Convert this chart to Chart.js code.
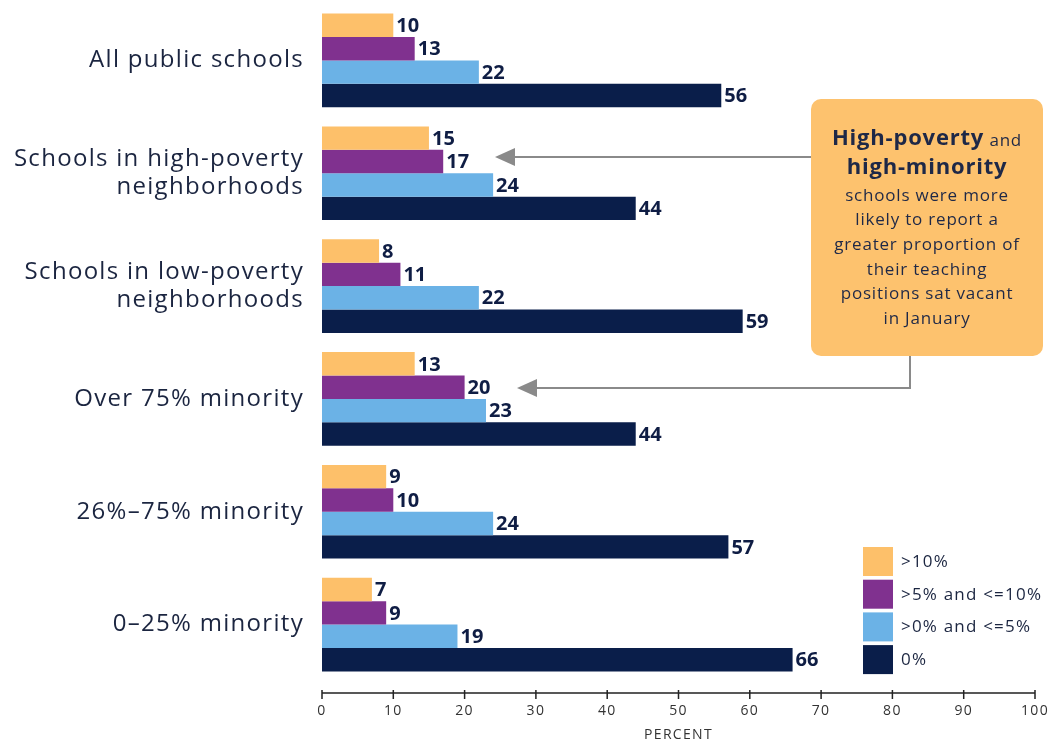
<!DOCTYPE html>
<html>
<head>
<meta charset="utf-8">
<script src="https://cdn.jsdelivr.net/npm/chart.js@4/dist/chart.umd.min.js"></script>
<style>
  body { margin: 0; background: #fff; }
  #wrap { width: 1057px; height: 743px; position: relative; }
</style>
</head>
<body>
<div id="wrap"><canvas id="vacancyChart"></canvas></div>
<script>
const categories = [
  "All public schools",
  ["Schools in high-poverty", "neighborhoods"],
  ["Schools in low-poverty", "neighborhoods"],
  "Over 75% minority",
  "26%\u201375% minority",
  "0\u201325% minority",
];
const seriesNames = [">10%", ">5% and <=10%", ">0% and <=5%", "0%"];
const over10 = [10, 15, 8, 13, 9, 7];
const over5to10 = [13, 17, 11, 20, 10, 9];
const over0to5 = [22, 24, 22, 23, 24, 19];
const zeroPct = [56, 44, 59, 44, 57, 66];
const colors = ["#FDC06A", "#80318F", "#6BB2E6", "#0A1E4A"];
const calloutLines = [
  "schools were more",
  "likely to report a",
  "greater proportion of",
  "their teaching",
  "positions sat vacant",
  "in January",
];

const textColor = "#1b2540";
const fontFamily = "'Open Sans', 'Noto Sans', sans-serif";

const vacancyData = {
  labels: categories,
  datasets: [over10, over5to10, over0to5, zeroPct].map((values, i) => ({
    label: seriesNames[i],
    data: values,
    backgroundColor: colors[i],
    borderWidth: 0,
  })),
};

// the source text is set a little wide, so space out the axis labels
const wideText = {
  id: "wideText",
  beforeDraw(chart) {
    chart.ctx.letterSpacing = "1.3px";
  },
  beforeDatasetsDraw(chart) {
    chart.ctx.letterSpacing = "0px";
  },
};

// value labels at the end of each bar
const barLabels = {
  id: "barLabels",
  afterDatasetsDraw(chart) {
    const ctx = chart.ctx;
    ctx.save();
    ctx.letterSpacing = "0px";
    ctx.font = "bold 20px " + fontFamily;
    ctx.fillStyle = "#0f1d44";
    ctx.textAlign = "left";
    ctx.textBaseline = "middle";
    chart.data.datasets.forEach((ds, di) => {
      chart.getDatasetMeta(di).data.forEach((bar, i) => {
        ctx.fillText(ds.data[i], bar.x + 3, bar.y + 1);
      });
    });
    ctx.restore();
  },
};

// x axis line with crossing ticks
const axisLine = {
  id: "axisLine",
  afterDraw(chart) {
    const ctx = chart.ctx;
    const x = chart.scales.x;
    const y = chart.chartArea.bottom + 12;
    ctx.save();
    ctx.strokeStyle = "#222";
    ctx.lineWidth = 1.5;
    ctx.beginPath();
    ctx.moveTo(x.getPixelForValue(0), y);
    ctx.lineTo(x.getPixelForValue(100), y);
    x.ticks.forEach((t) => {
      const px = x.getPixelForValue(t.value);
      ctx.moveTo(px, y - 3);
      ctx.lineTo(px, y + 6);
    });
    ctx.stroke();
    ctx.restore();
  },
};

// legend in the lower right
const boxLegend = {
  id: "boxLegend",
  afterDraw(chart) {
    const ctx = chart.ctx;
    ctx.save();
    ctx.letterSpacing = "1.2px";
    ctx.font = "17px " + fontFamily;
    ctx.textBaseline = "middle";
    chart.data.datasets.forEach((ds, i) => {
      const top = 547 + i * 32.7;
      ctx.fillStyle = ds.backgroundColor;
      ctx.fillRect(863, top, 30, 29);
      ctx.fillStyle = textColor;
      ctx.fillText(ds.label, 901, top + 15);
    });
    ctx.restore();
  },
};

// callout box with arrows
const callout = {
  id: "callout",
  afterDraw(chart) {
    const ctx = chart.ctx;
    ctx.save();
    ctx.strokeStyle = "#8a8a8a";
    ctx.fillStyle = "#8a8a8a";
    ctx.lineWidth = 2;
    ctx.beginPath();
    ctx.moveTo(811, 157);
    ctx.lineTo(512, 157);
    ctx.moveTo(910, 356);
    ctx.lineTo(910, 388);
    ctx.lineTo(534, 388);
    ctx.stroke();
    [[495, 157], [517, 388]].forEach(([tx, ty]) => {
      ctx.beginPath();
      ctx.moveTo(tx, ty);
      ctx.lineTo(tx + 20, ty - 9);
      ctx.lineTo(tx + 20, ty + 9);
      ctx.closePath();
      ctx.fill();
    });
    ctx.fillStyle = "#FDC26E";
    ctx.beginPath();
    ctx.roundRect(811, 99, 232, 257, 10);
    ctx.fill();

    const cx = 927;
    ctx.fillStyle = "#1e2847";
    ctx.textBaseline = "middle";
    ctx.letterSpacing = "0.8px";
    const boldFont = "bold 22px " + fontFamily;
    const smallFont = "17px " + fontFamily;
    ctx.font = boldFont;
    const w1 = ctx.measureText("High-poverty").width;
    ctx.font = smallFont;
    const w2 = ctx.measureText(" and").width;
    const start = cx - (w1 + w2) / 2;
    ctx.textAlign = "left";
    ctx.font = boldFont;
    ctx.fillText("High-poverty", start, 139);
    ctx.font = smallFont;
    ctx.fillText(" and", start + w1, 141);
    ctx.textAlign = "center";
    ctx.font = boldFont;
    ctx.fillText("high-minority", cx, 168);
    ctx.font = smallFont;
    calloutLines.forEach((line, i) => {
      ctx.fillText(line, cx, 196 + i * 24.6);
    });
    ctx.restore();
  },
};

const vacancyOptions = {
  indexAxis: "y",
  responsive: true,
  maintainAspectRatio: false,
  animation: false,
  barPercentage: 1,
  categoryPercentage: 0.83,
  layout: { padding: { top: 4, right: 22, bottom: 0, left: 0 } },
  plugins: {
    legend: { display: false },
    tooltip: { enabled: false },
  },
  scales: {
    x: {
      min: 0,
      max: 100,
      afterFit(scale) {
        scale.height = 62;
        scale.paddingLeft = 0;
        scale.paddingRight = 0;
      },
      grid: { display: false, drawTicks: false },
      border: { display: false },
      ticks: {
        stepSize: 10,
        padding: 22,
        color: "#333",
        font: { family: fontFamily, size: 14 },
      },
      title: {
        display: true,
        text: "PERCENT",
        color: "#333",
        padding: { top: 0, bottom: 0 },
        font: { family: fontFamily, size: 14 },
      },
    },
    y: {
      afterFit(scale) {
        scale.width = 322;
        scale.paddingTop = 0;
        scale.paddingBottom = 0;
      },
      grid: { display: false, drawTicks: false },
      border: { display: false },
      ticks: {
        padding: 18,
        color: textColor,
        font: { family: fontFamily, size: 24, lineHeight: 1.17 },
      },
    },
  },
};

const vacancyChart = new Chart(document.getElementById("vacancyChart"), {
  type: "bar",
  data: vacancyData,
  options: vacancyOptions,
  plugins: [wideText, barLabels, axisLine, boxLegend, callout],
});
</script>
</body>
</html>
